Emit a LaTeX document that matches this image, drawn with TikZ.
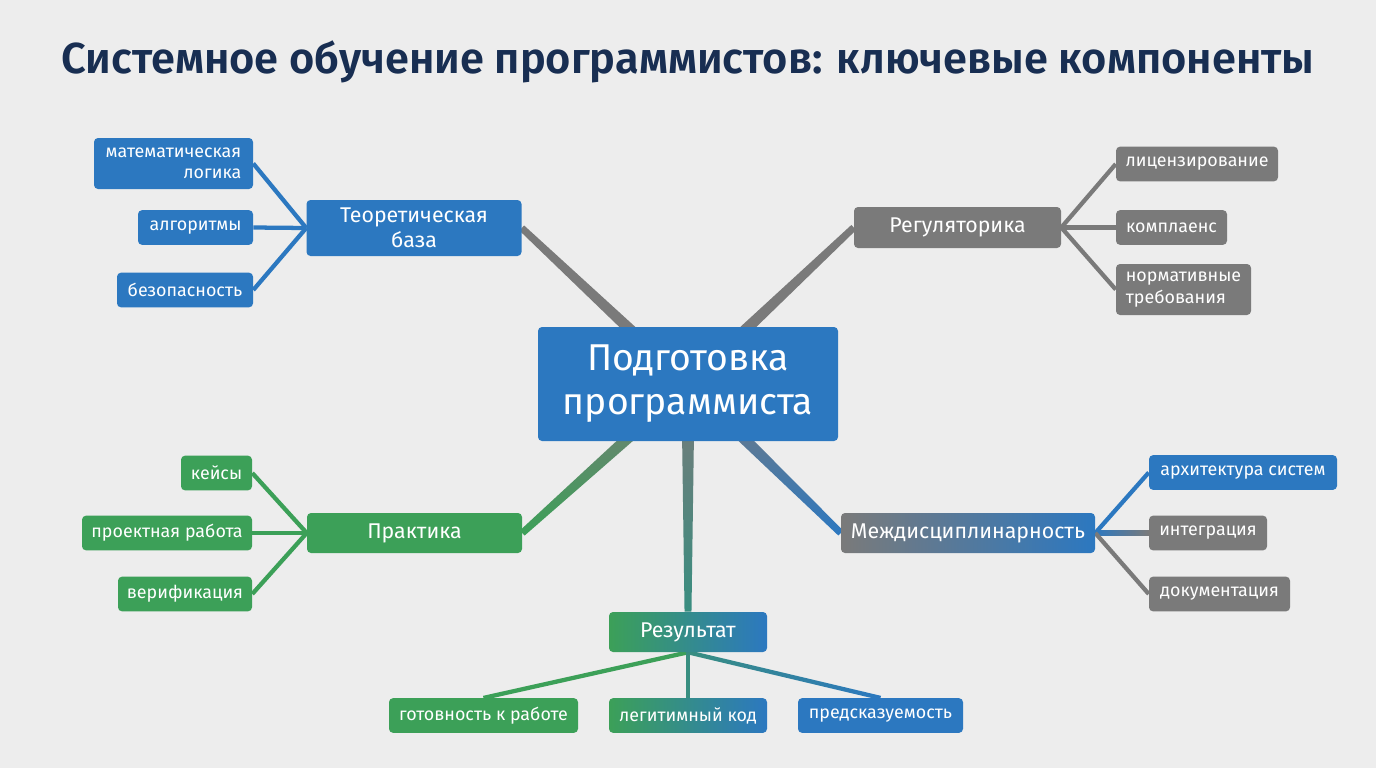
\documentclass[tikz,border=0pt]{standalone}
\usepackage{fontspec}
\setmainfont{Fira Sans}
\newfontfamily\titlefont{Fira Sans SemiBold}
\usetikzlibrary{positioning,calc,backgrounds}
\definecolor{mapblue}{RGB}{44,120,192}
\definecolor{mapgrey}{RGB}{122,122,122}
\definecolor{mapgreen}{RGB}{60,160,88}
\definecolor{mapteal}{RGB}{56,142,128}
\definecolor{titlenavy}{RGB}{24,46,82}
\definecolor{canvas}{RGB}{237,237,237}
\tikzset{
  mapbox/.style={
    rounded corners=3pt,text=white,align=center,inner sep=0pt
  },
  hubbox/.style={mapbox,fill=mapblue,minimum width=225pt,minimum height=85.5pt,
    font=\fontsize{28}{33}\selectfont},
  branchbox/.style={mapbox,minimum height=30pt,font=\fontsize{16}{19}\selectfont},
  leafbox/.style={mapbox,minimum height=26pt,font=\fontsize{13.4}{16}\selectfont},
  bluebox/.style={leafbox,fill=mapblue},
  greybox/.style={leafbox,fill=mapgrey},
  greenbox/.style={leafbox,fill=mapgreen},
  twig/.style={line width=3.2pt}
}
% tapered connector: from, to, half width at from, half width at to, paint
\newcommand{\taper}[5]{%
  \path[#5] ($(#1)!#3!90:(#2)$) -- ($(#1)!#3!-90:(#2)$)
    -- ($(#2)!#4!90:(#1)$) -- ($(#2)!#4!-90:(#1)$) -- cycle;}

\begin{document}
\begin{tikzpicture}[x=0.75pt,y=-0.75pt]
  \begin{scope}[on background layer]
    \fill[canvas] (0,0) rectangle (1376,768);
  \end{scope}
  \node[font=\fontsize{32.5}{38}\titlefont,text=titlenavy] (title) at (688,62)
    {Системное обучение программистов: ключевые компоненты};

  % centre and branches
  \node[hubbox] (hub) at (688,384) {Подготовка\\программиста};
  \node[branchbox,fill=mapblue,minimum width=161.25pt,minimum height=42pt] (theory) at (414,228)
    {Теоретическая\\база};
  \node[branchbox,fill=mapgrey,minimum width=155.25pt,minimum height=30.75pt] (regul) at (957.5,227.5)
    {Регуляторика};
  \node[branchbox,fill=mapgreen,minimum width=161.25pt] (practice) at (414.5,533) {Практика};
  \node[branchbox,left color=mapgrey,right color=mapblue,minimum width=190.5pt] (interdisc) at (968,533)
    {Междисциплинарность};
  \node[branchbox,left color=mapgreen,right color=mapblue,minimum width=118.5pt] (result) at (688,632)
    {Результат};

  % leaves
  \node[bluebox,align=right,minimum width=119.25pt,minimum height=38.25pt] (logic) at (173.5,163.5)
    {математическая\\логика};
  \node[bluebox,minimum width=86.25pt] (algo) at (195.5,227.5) {алгоритмы};
  \node[bluebox,minimum width=102pt] (secur) at (185,290) {безопасность};
  \node[greybox,minimum width=121.5pt] (licence) at (1197,164) {лицензирование};
  \node[greybox,minimum width=83.25pt] (compl) at (1171.5,227.5) {комплаенс};
  \node[greybox,align=left,minimum width=101.25pt,minimum height=38.25pt] (norms) at (1183.5,289.5)
    {нормативные\\требования};
  \node[greenbox,minimum width=53.25pt] (cases) at (216.5,473) {кейсы};
  \node[greenbox,minimum width=127.5pt] (project) at (167,533) {проектная работа};
  \node[greenbox,minimum width=100.5pt] (verif) at (185,594) {верификация};
  \node[bluebox,minimum width=141pt] (arch) at (1243,472.5) {архитектура систем};
  \node[greybox,minimum width=88.5pt] (integ) at (1208,533) {интеграция};
  \node[greybox,minimum width=105.75pt] (docs) at (1219.5,594) {документация};
  \node[greenbox,minimum width=141.75pt] (ready) at (483.5,715.5) {готовность к работе};
  \node[leafbox,left color=mapgreen,right color=mapblue,minimum width=118.5pt] (legit) at (688,715.5)
    {легитимный код};
  \node[bluebox,minimum width=123.75pt] (predict) at (880.5,715.5) {предсказуемость};

  \begin{scope}[on background layer]
    % main branches
    \taper{hub.center}{theory.east}{5pt}{2.6pt}{fill=mapgrey}
    \taper{hub.center}{regul.west}{5pt}{2.6pt}{fill=mapgrey}
    \taper{hub.center}{practice.east}{5pt}{2.6pt}{top color=mapgrey,bottom color=mapgreen}
    \taper{hub.center}{interdisc.west}{5pt}{2.6pt}{top color=mapgrey,bottom color=mapblue}
    \taper{hub.center}{result.north}{5pt}{2.6pt}{top color=mapgrey,bottom color=mapteal}
    % twigs
    \draw[twig,draw=mapblue] (theory.west) -- (logic.east);
    \draw[twig,draw=mapblue] (theory.west) -- (algo.east);
    \draw[twig,draw=mapblue] (theory.west) -- (secur.east);
    \draw[twig,draw=mapgrey] (regul.east) -- (licence.west);
    \draw[twig,draw=mapgrey] (regul.east) -- (compl.west);
    \draw[twig,draw=mapgrey] (regul.east) -- (norms.west);
    \draw[twig,draw=mapgreen] (practice.west) -- (cases.east);
    \draw[twig,draw=mapgreen] (practice.west) -- (project.east);
    \draw[twig,draw=mapgreen] (practice.west) -- (verif.east);
    \draw[twig,draw=mapblue] (interdisc.east) -- (arch.west);
    \taper{interdisc.east}{integ.west}{1.6pt}{1.6pt}{left color=mapblue,right color=mapgrey}
    \draw[twig,draw=mapgrey] (interdisc.east) -- (docs.west);
    \draw[twig,draw=mapgreen] (result.south) -- (ready.north);
    \draw[twig,draw=mapteal] (result.south) -- (legit.north);
    \taper{result.south}{predict.north}{1.6pt}{1.6pt}{left color=mapteal,right color=mapblue}
  \end{scope}
\end{tikzpicture}
\end{document}
